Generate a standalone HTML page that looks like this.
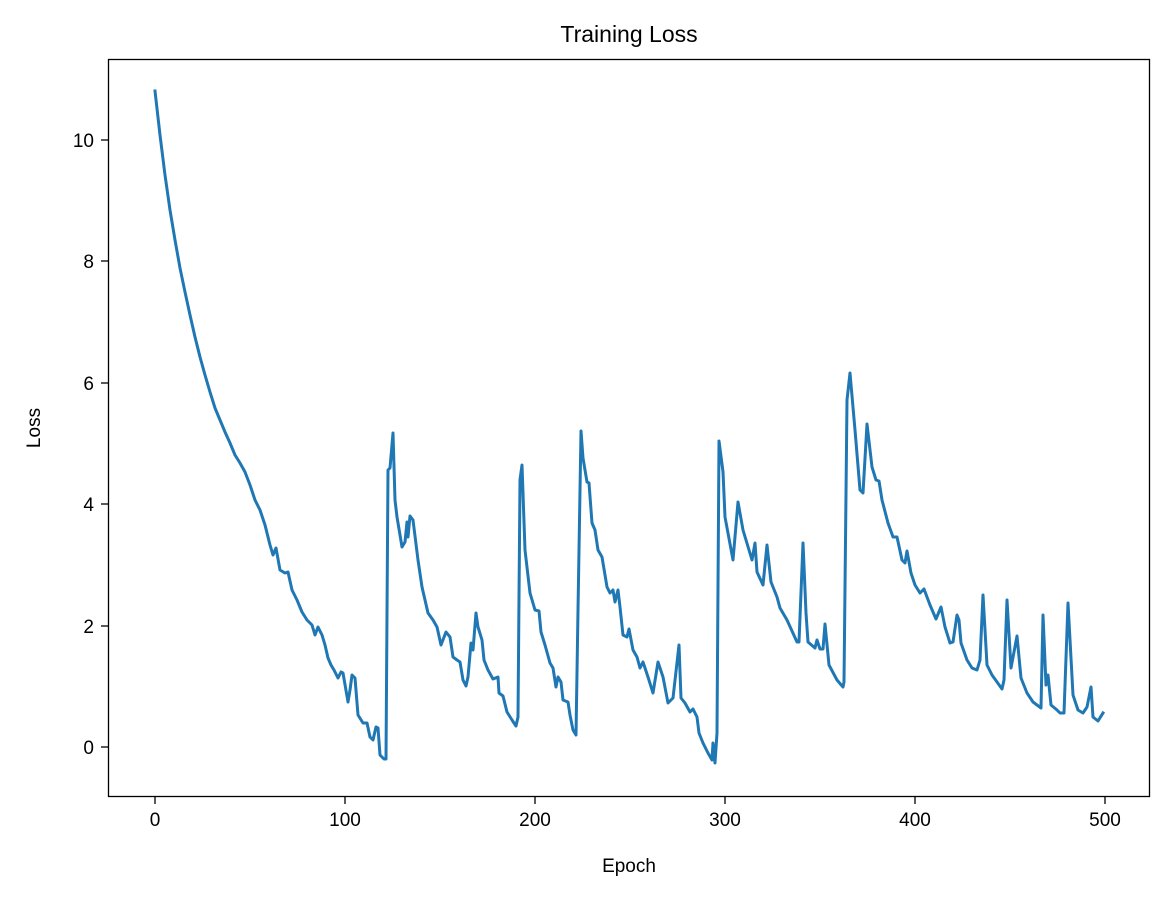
<!DOCTYPE html>
<html><head><meta charset="utf-8"><style>html,body{margin:0;padding:0;background:#fff}</style></head>
<body>
<svg width="1169" height="898" xmlns="http://www.w3.org/2000/svg" font-family="Liberation Sans, DejaVu Sans, sans-serif">
<rect width="1169" height="898" fill="#fff"/>
<polyline fill="none" stroke="#1f77b4" stroke-width="3" stroke-linejoin="round" stroke-linecap="square" points="155,91 160,135 165,175 170,210 175,240 180,268 185,292 190,315 195,337 200,357 205,375 210,392 215,408 220,420 225,432 230,443 235,455 240,463 245,472 250,485 255,500 260,510 265,525 270,545 273,555 276,548 280,570 285,573 288,572 292,590 297,600 302,612 307,620 312,625 315,635 318,627 322,635 325,645 328,658 331,665 334,670 338,678 341,672 343,673 348,702 350,690 352,675 355,678 358,715 363,723 367,723 370,737 373,740 376,727 378,728 380,755 384,759 386,759 388,470 390,468 393,433 395,500 397,517 402,547 405,542 407,522 408,537 410,516 413,520 418,560 422,587 428,613 433,620 437,627 441,645 446,632 450,637 453,657 457,660 460,662 463,680 466,686 468,677 471,643 473,650 476,613 478,627 482,640 484,660 488,670 493,679 498,677 499,693 503,696 507,712 512,720 516,726 518,717 520,480 522,465 525,550 530,593 535,610 539,611 541,632 545,645 550,663 553,668 556,687 558,677 561,682 563,700 568,702 570,715 573,730 576,735 578,610 581,431 583,458 587,482 589,483 592,523 595,530 598,550 602,557 607,587 610,593 613,590 615,602 618,590 620,607 623,635 627,637 629,629 633,650 637,657 640,668 643,662 648,677 653,693 658,662 663,677 668,703 673,698 679,645 681,698 685,703 690,712 693,709 697,717 699,733 703,743 708,753 712,760 713,743 715,763 717,733 719,441 723,472 725,517 733,560 738,502 743,530 752,560 755,543 757,572 763,585 767,545 771,582 777,597 780,608 787,620 797,642 799,642 803,543 806,613 808,642 815,648 817,640 820,649 823,649 825,624 829,665 837,680 843,687 844,682 847,400 850,373 855,430 860,490 863,493 867,424 872,467 876,480 879,481 882,500 888,523 893,537 897,537 902,560 905,563 907,551 911,573 915,585 920,593 924,589 927,597 930,605 936,619 941,607 945,627 950,643 953,642 957,615 959,620 961,643 967,660 972,668 977,670 980,660 983,595 987,665 992,675 997,682 1002,689 1004,680 1007,600 1011,668 1017,636 1021,678 1027,693 1033,702 1041,708 1043,615 1046,685 1048,675 1051,705 1057,710 1060,713 1064,713 1068,603 1073,695 1078,710 1083,713 1087,707 1091,687 1093,717 1098,721 1103,713"/>
<rect x="108.5" y="59.5" width="1041" height="737" fill="none" stroke="#000" stroke-width="1.3"/>
<g stroke="#000" stroke-width="1.3">
<line x1="155" y1="797" x2="155" y2="804"/><line x1="345" y1="797" x2="345" y2="804"/><line x1="535" y1="797" x2="535" y2="804"/><line x1="725" y1="797" x2="725" y2="804"/><line x1="915" y1="797" x2="915" y2="804"/><line x1="1105" y1="797" x2="1105" y2="804"/>
<line x1="101" y1="747" x2="108" y2="747"/><line x1="101" y1="626" x2="108" y2="626"/><line x1="101" y1="504" x2="108" y2="504"/><line x1="101" y1="383" x2="108" y2="383"/><line x1="101" y1="261" x2="108" y2="261"/><line x1="101" y1="140" x2="108" y2="140"/>
</g>
<g font-size="19" text-anchor="middle" fill="#000">
<text x="155" y="826">0</text><text x="345" y="826">100</text><text x="535" y="826">200</text><text x="725" y="826">300</text><text x="915" y="826">400</text><text x="1105" y="826">500</text>
</g>
<g font-size="19" text-anchor="end" fill="#000">
<text x="94" y="754">0</text><text x="94" y="633">2</text><text x="94" y="511">4</text><text x="94" y="390">6</text><text x="94" y="268">8</text><text x="94" y="147">10</text>
</g>
<text x="629" y="872" font-size="19" text-anchor="middle">Epoch</text>
<text transform="translate(40,428) rotate(-90)" font-size="19" text-anchor="middle">Loss</text>
<text x="629" y="42" font-size="23" text-anchor="middle">Training Loss</text>
</svg>
</body></html>
